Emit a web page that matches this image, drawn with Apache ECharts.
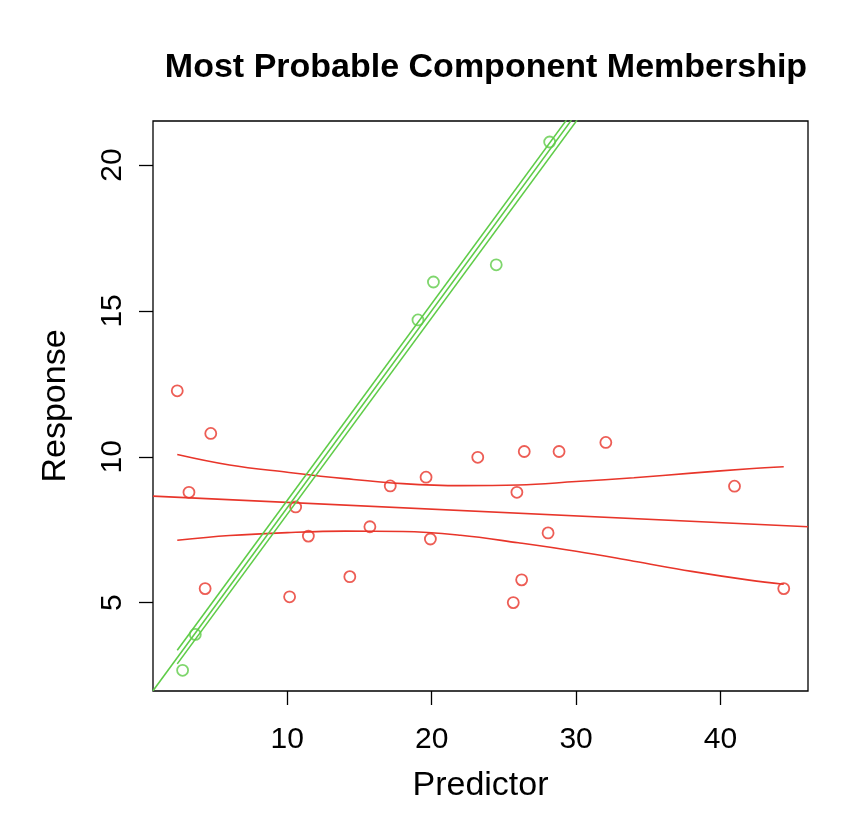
<!DOCTYPE html>
<html>
<head>
<meta charset="utf-8">
<title>Most Probable Component Membership</title>
<script src="https://cdn.jsdelivr.net/npm/echarts@6/dist/echarts.min.js"></script>
<style>
  html, body { margin: 0; padding: 0; background: #fff; }
  #chart { width: 844px; height: 820px; }
</style>
</head>
<body>
<div id="chart"></div>
<script>
  // points, component 1 (red)
  var redX = [2.38, 4.70, 3.19, 4.31, 10.16, 10.58, 11.46, 14.33, 15.72, 17.13, 19.61, 19.91,
              23.19, 26.41, 28.82, 32.06, 25.90, 28.06, 26.23, 25.65, 40.97, 44.38];
  var redY = [12.26, 10.80, 8.78, 5.48, 5.20, 8.28, 7.28, 5.89, 7.60, 9.00, 9.30, 7.18,
              9.98, 10.18, 10.18, 10.49, 8.78, 7.39, 5.78, 5.00, 8.99, 5.48];
  // points, component 2 (green)
  var greenX = [2.75, 3.63, 19.05, 20.12, 24.47, 28.17];
  var greenY = [2.68, 3.91, 14.69, 15.99, 16.58, 20.79];

  // fitted lines
  var redFitX = [0.70, 46.06];
  var redFitY = [8.65, 7.60];
  var bandX = [2.38, 6, 10, 14, 18, 22, 26, 30, 34, 38, 42, 44.38];
  var redUpperY = [10.08, 9.72, 9.47, 9.25, 9.08, 9.01, 9.03, 9.15, 9.28, 9.44, 9.59, 9.66];
  var redLowerY = [7.14, 7.30, 7.40, 7.45, 7.44, 7.31, 7.05, 6.76, 6.42, 6.07, 5.77, 5.63];

  var greenFitX = [0.70, 29.68];
  var greenFitY = [1.98, 21.54];
  var greenUpperX = [2.38, 29.33];
  var greenUpperY = [3.37, 21.54];
  var greenLowerX = [2.38, 30.07];
  var greenLowerY = [2.90, 21.54];

  var xTicks = [10, 20, 30, 40];
  var yTicks = [5, 10, 15, 20];

  var RED = '#E8352A', GREEN = '#5FCC48';
  var FONT = '"Liberation Sans", Arial, Helvetica, sans-serif';

  function pairs(xs, ys) {
    return xs.map(function (x, i) { return [x, ys[i]]; });
  }
  function lineSeries(xs, ys, color, smooth) {
    return {
      type: 'line', data: pairs(xs, ys), showSymbol: false, symbol: 'none',
      smooth: smooth || false, clip: true, silent: true,
      lineStyle: { color: color, width: 1.6 }
    };
  }
  function pointSeries(xs, ys, color) {
    return {
      type: 'scatter', data: pairs(xs, ys), symbol: 'circle', symbolSize: 11,
      itemStyle: { color: 'rgba(0,0,0,0)', borderColor: color, borderWidth: 1.8 }
    };
  }

  var chart = echarts.init(document.getElementById('chart'), null, { renderer: 'canvas' });
  chart.setOption({
    animation: false,
    backgroundColor: '#fff',
    textStyle: { fontFamily: FONT },
    title: {
      text: 'Most Probable Component Membership',
      left: 481, top: 46, textAlign: 'center',
      textStyle: { fontFamily: FONT, fontSize: 34, fontWeight: 'bold', color: '#000' }
    },
    grid: {
      left: 153, right: 36, top: 121, bottom: 129,
      show: true, borderColor: '#000', borderWidth: 1.3, backgroundColor: 'transparent'
    },
    xAxis: {
      type: 'value', min: 0.70, max: 46.06,
      name: 'Predictor', nameLocation: 'middle', nameGap: 78,
      nameTextStyle: { fontFamily: FONT, fontSize: 34, color: '#000' },
      axisLine: { show: false },
      splitLine: { show: false },
      axisTick: { show: true, length: 14, customValues: xTicks, lineStyle: { color: '#000', width: 1.3 } },
      axisLabel: { customValues: xTicks, fontSize: 30, color: '#000', margin: 34, fontFamily: FONT }
    },
    yAxis: {
      type: 'value', min: 1.97, max: 21.51,
      name: 'Response', nameLocation: 'middle', nameGap: 80, nameRotate: 90,
      nameTextStyle: { fontFamily: FONT, fontSize: 34, color: '#000' },
      axisLine: { show: false },
      splitLine: { show: false },
      axisTick: { show: true, length: 14, customValues: yTicks, lineStyle: { color: '#000', width: 1.3 } },
      axisLabel: { customValues: yTicks, fontSize: 30, color: '#000', margin: 25, rotate: 90, fontFamily: FONT }
    },
    series: [
      lineSeries(redFitX, redFitY, RED),
      lineSeries(bandX, redUpperY, RED, 0.4),
      lineSeries(bandX, redLowerY, RED, 0.4),
      lineSeries(greenFitX, greenFitY, GREEN),
      lineSeries(greenUpperX, greenUpperY, GREEN),
      lineSeries(greenLowerX, greenLowerY, GREEN),
      pointSeries(redX, redY, RED),
      pointSeries(greenX, greenY, GREEN)
    ]
  });
</script>
</body>
</html>
